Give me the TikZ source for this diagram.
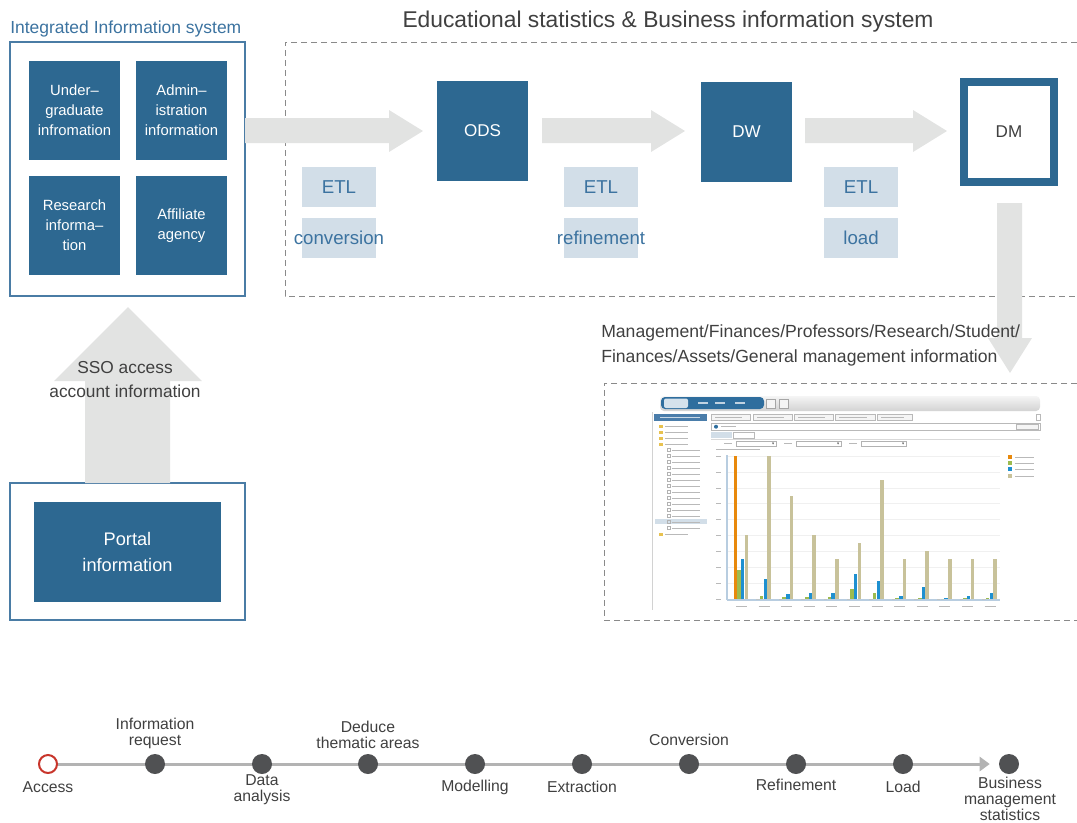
\documentclass[tikz,border=0pt]{standalone}
\usepackage{fontspec}
\setmainfont{Liberation Sans}
\usetikzlibrary{arrows.meta,backgrounds}
\definecolor{boxblue}{HTML}{2D6891}
\definecolor{framecol}{HTML}{4A7CA5}
\definecolor{lblue}{HTML}{D2DEE8}
\definecolor{tblue}{HTML}{3C73A0}
\definecolor{agray}{HTML}{E2E3E2}
\definecolor{dgray}{HTML}{404040}
\definecolor{dotgray}{HTML}{505153}
\definecolor{tlgray}{HTML}{B3B3B3}
\definecolor{dashgray}{HTML}{8A8A8A}
\definecolor{accred}{HTML}{C8352B}
\definecolor{tabblue}{HTML}{2F6E9E}
\definecolor{sideblue}{HTML}{4A7DAA}
\definecolor{folderyel}{HTML}{E8C250}
\definecolor{axisblue}{HTML}{B8CDE0}
\definecolor{barorange}{HTML}{E8890C}
\definecolor{bargreen}{HTML}{9DBB4F}
\definecolor{barblue}{HTML}{1E90D0}
\definecolor{bartan}{HTML}{C8C29A}
\tikzset{
  bluebox/.style={fill=boxblue, text=white, minimum width=68.25pt, minimum height=74.25pt, align=center, inner sep=0pt, font=\fontsize{11.1}{15}\selectfont},
  corebox/.style={fill=boxblue, text=white, minimum width=68.25pt, minimum height=75pt, inner sep=0pt, font=\fontsize{12.8}{15}\selectfont},
  etlbox/.style={fill=lblue, minimum width=55.5pt, minimum height=30pt, inner sep=0pt},
  etltext/.style={text=tblue, inner sep=0pt, font=\fontsize{14}{16}\selectfont},
  frame/.style={draw=framecol, line width=1pt},
  dashbox/.style={draw=dashgray, line width=0.75pt, dash pattern=on 4.5pt off 3pt},
  fat/.style={fill=agray},
  tdot/.style={circle, fill=dotgray, minimum size=15pt, inner sep=0pt},
  tlab/.style={text=dgray, align=center, inner sep=0pt, font=\fontsize{11.8}{12}\selectfont},
  ph/.style={draw=gray!55, line width=0.5pt},
}
\begin{document}
\begin{tikzpicture}[x=0.75pt,y=-0.75pt]
\useasboundingbox (0,0) rectangle (1077,822);

% ---------- titles ----------
\node[font=\fontsize{13.1}{15}\selectfont, text=tblue, anchor=base west, inner sep=0pt] (t1) at (10,33) {Integrated Information system};
\node[font=\fontsize{17.1}{20}\selectfont, text=dgray, anchor=base, inner sep=0pt] (t2) at (668,27) {Educational statistics \& Business information system};

% ---------- frames ----------
\draw[frame] (10,42) rectangle (245,296);
\draw[dashbox] (1077,42) -- (285,42) -- (285,296) -- (1077,296);
\draw[frame] (10,483) rectangle (245,620);
\draw[dashbox] (1077,383) -- (604,383) -- (604,620) -- (1077,620);

% ---------- fat arrows ----------
\fill[fat] (245,118) -- (389,118) -- (389,110) -- (423,131) -- (389,152) -- (389,143) -- (245,143) -- cycle;
\fill[fat] (542,118) -- (651,118) -- (651,110) -- (685,131) -- (651,152) -- (651,143) -- (542,143) -- cycle;
\fill[fat] (805,118) -- (913,118) -- (913,110) -- (947,131) -- (913,152) -- (913,143) -- (805,143) -- cycle;
\fill[fat] (997,203) -- (1022,203) -- (1022,338) -- (1032,338) -- (1010,373) -- (988,338) -- (997,338) -- cycle;
\fill[fat] (85,483) -- (85,381) -- (54,381) -- (128,307) -- (202,381) -- (170,381) -- (170,483) -- cycle;

% ---------- source boxes ----------
\node[bluebox] (ug) at (74.5,110.5) {Under–\\graduate\\infromation};
\node[bluebox] (adm) at (181.5,110.5) {Admin–\\istration\\information};
\node[bluebox] (res) at (74.5,225.5) {Research\\informa–\\tion};
\node[bluebox] (aff) at (181.5,225.5) {Affiliate\\agency};

% ---------- ODS / DW / DM ----------
\node[corebox] (ods) at (482.5,131) {ODS};
\node[corebox] (dw) at (746.5,132) {DW};
\node[draw=boxblue, line width=6pt, fill=white, text=dgray, minimum width=67.5pt, minimum height=75pt, inner sep=0pt, font=\fontsize{12.8}{15}\selectfont] (dm) at (1009,132) {DM};

% ---------- ETL labels ----------
\node[etlbox] (e1a) at (339,187) {};
\node[etltext] (e1at) at (e1a) {ETL};
\node[etlbox] (e1b) at (339,238) {};
\node[etltext] (e1bt) at (e1b) {conversion};
\node[etlbox] (e2a) at (601,187) {};
\node[etltext] (e2at) at (e2a) {ETL};
\node[etlbox] (e2b) at (601,238) {};
\node[etltext] (e2bt) at (e2b) {refinement};
\node[etlbox] (e3a) at (861,187) {};
\node[etltext] (e3at) at (e3a) {ETL};
\node[etlbox] (e3b) at (861,238) {};
\node[etltext] (e3bt) at (e3b) {load};

% ---------- management text ----------
\node[anchor=west, align=left, text=dgray, inner sep=0pt, font=\fontsize{13.2}{18.75}\selectfont] (mgmt) at (601,345.5) {Management/Finances/Professors/Research/Student/\\Finances/Assets/General management information};

% ---------- SSO + portal ----------
\node[align=center, text=dgray, inner sep=0pt, font=\fontsize{13}{18}\selectfont] (sso) at (125,380) {SSO access\\account information};
\node[fill=boxblue, text=white, minimum width=140.25pt, minimum height=75pt, align=center, inner sep=0pt, font=\fontsize{13.65}{19}\selectfont] (portal) at (127.5,552) {Portal\\information};

% ---------- screenshot ----------
\begin{scope}
\fill[white] (652,395) rectangle (1040,610);
\draw[gray!35, line width=0.4pt] (652,412) -- (652,610);
\shade[top color=gray!8, bottom color=gray!35, rounded corners=3pt] (660,396) rectangle (1040,411);
\fill[tabblue, rounded corners=3pt] (661,397) rectangle (764,409);
\fill[white!80!tabblue, rounded corners=1.5pt] (664,398.5) rectangle (688,408);
\foreach \x in {703,720,740} \draw[white!70!tabblue, line width=0.8pt] (\x-5,403) -- (\x+5,403);
\draw[gray!70, fill=gray!8] (766,399) rectangle (775,408);
\draw[gray!70, fill=gray!8] (779,399) rectangle (788,408);
% sidebar
\fill[sideblue] (654,414) rectangle (707,421);
\draw[white!70!sideblue, line width=0.8pt] (660,417.5) -- (700,417.5);
\fill[lblue] (655,518.5) rectangle (707,524);
\foreach \y in {426,432,438,444,534} {
  \fill[folderyel] (659,\y-1.5) rectangle (663,\y+1.5);
  \draw[ph] (665,\y) -- (688,\y);
}
\foreach \i in {0,...,13} {
  \draw[gray!60, line width=0.3pt] (667,{450+6*\i-1.5}) rectangle (670,{450+6*\i+1.5});
  \draw[ph] (672,{450+6*\i}) -- (700,{450+6*\i});
}
% tab strip
\foreach \a/\b in {711/750,753/792,794/833,835/875,877/912} {
  \draw[gray!55, fill=gray!8, line width=0.4pt] (\a,414) rectangle (\b,420);
  \draw[ph] (\a+4,417) -- (\b-8,417);
}
\draw[gray!55, line width=0.4pt] (1036,414) rectangle (1040,420);
\draw[gray!55, line width=0.4pt] (711,423) rectangle (1040,430.5);
\fill[tabblue] (716,426.7) circle (2);
\draw[ph] (721,426.7) -- (736,426.7);
\draw[gray!55, fill=gray!8, line width=0.4pt] (1016,424) rectangle (1038,429.5);
\fill[lblue] (711,432) rectangle (732,438);
\draw[gray!55, line width=0.4pt] (733,432) rectangle (754,438);
\draw[gray!30, line width=0.4pt] (711,439.5) -- (1040,439.5);
\foreach \a/\b in {736/776,796/841,861/906} {
  \draw[ph] (\a-12,443.5) -- (\a-4,443.5);
  \draw[gray!60, fill=white, line width=0.4pt] (\a,441) rectangle (\b,446);
  \fill[dgray] (\b-4,442.5) -- (\b-2,442.5) -- (\b-3,444.5) -- cycle;
}
\draw[ph] (716,449) -- (760,449);
% chart grid and axes
\foreach \v in {0,20,...,180} {
  \draw[gray!12, line width=0.3pt] (727,{599-0.7944*\v}) -- (1000,{599-0.7944*\v});
  \draw[ph, line width=0.4pt] (716,{599-0.7944*\v}) -- (721,{599-0.7944*\v});
}
\draw[axisblue, line width=1.2pt] (727,455) -- (727,600);
\draw[axisblue, line width=1.2pt] (727,600) -- (1000,600);
% bars
\foreach \i/\o/\g/\b/\t in {0/180/37/50/80,1/0/4/25/180,2/0/2/6/130,3/0/2/7/80,4/0/3/8/50,5/0/13/31/70,6/0/7/23/150,7/0/1/4/50,8/0/1/15/60,9/0/0/1/50,10/0/1/4/50,11/0/1/7/50} {
  \fill[barorange] ({733.5+22.6*\i},599) rectangle ({737+22.6*\i},{599-0.7944*\o});
  \fill[bargreen] ({737.2+22.6*\i},599) rectangle ({740.7+22.6*\i},{599-0.7944*\g});
  \fill[barblue] ({740.9+22.6*\i},599) rectangle ({744.4+22.6*\i},{599-0.7944*\b});
  \fill[bartan] ({744.6+22.6*\i},599) rectangle ({748.1+22.6*\i},{599-0.7944*\t});
  \draw[ph, line width=0.4pt] ({736+22.6*\i},606) -- ({747+22.6*\i},606);
}
% legend
\foreach \c/\y in {barorange/457,bargreen/463,barblue/469,bartan/476} {
  \fill[\c] (1008,\y-2) rectangle (1012,\y+2);
  \draw[ph, line width=0.4pt] (1015,\y) -- (1034,\y);
}
\end{scope}

% ---------- timeline ----------
\node[circle, draw=accred, line width=1.5pt, fill=white, minimum size=13.5pt, inner sep=0pt] (n1) at (48,764) {};
\node[tdot] (n2) at (155,764) {};
\node[tdot] (n3) at (262,764) {};
\node[tdot] (n4) at (368,764) {};
\node[tdot] (n5) at (475,764) {};
\node[tdot] (n6) at (582,764) {};
\node[tdot] (n7) at (689,764) {};
\node[tdot] (n8) at (796,764) {};
\node[tdot] (n9) at (903,764) {};
\node[tdot] (n10) at (1009,764) {};
\begin{pgfonlayer}{background}
\draw[tlgray, line width=2.25pt, -{Triangle[length=7.5pt,width=10.5pt]}, shorten >=6.75pt] (n1.center) -- (n10.west);
\end{pgfonlayer}

\node[tlab] (l1) at (48,787) {Access};
\node[tlab] (l2) at (155,733) {Information\\request};
\node[tlab] (l3) at (262,790) {Data\\analysis};
\node[tlab] (l4) at (368,735) {Deduce\\thematic areas};
\node[tlab] (l5) at (475,787) {Modelling};
\node[tlab] (l6) at (582,787) {Extraction};
\node[tlab] (l7) at (689,740) {Conversion};
\node[tlab] (l8) at (796,785) {Refinement};
\node[tlab] (l9) at (903,787) {Load};
\node[tlab] (l10) at (1010,799) {Business\\management\\statistics};
\end{tikzpicture}
\end{document}
